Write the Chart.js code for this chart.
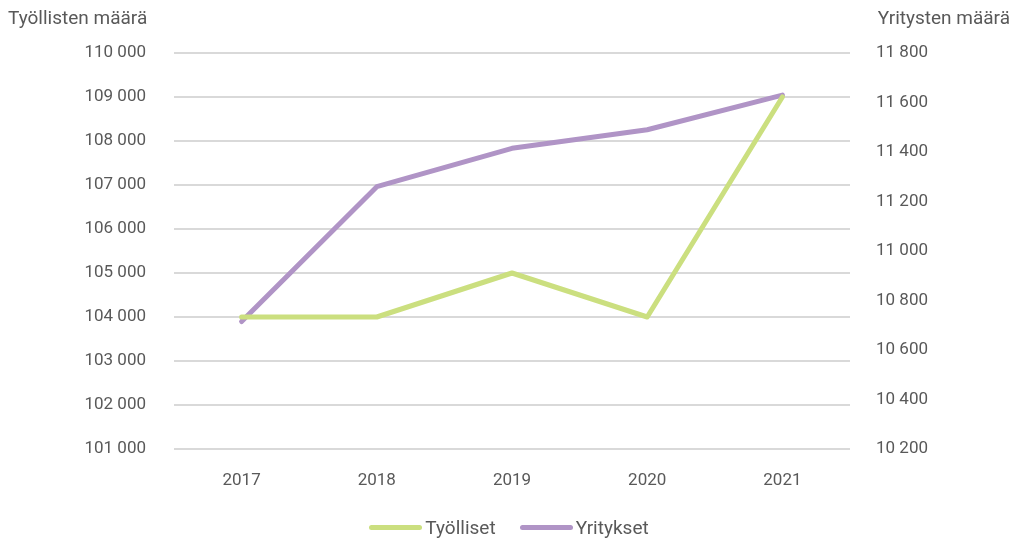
<!DOCTYPE html>
<html>
<head>
<meta charset="utf-8">
<script src="https://cdn.jsdelivr.net/npm/chart.js@4"></script>
<style>
html,body{margin:0;padding:0;background:#fff;}
#wrap{position:relative;width:1020px;height:542px;}
canvas{position:absolute;left:0;top:0;}
.ttl{position:absolute;top:6px;font-family:Roboto,"Noto Sans",sans-serif;font-size:19px;color:#595959;white-space:nowrap;}
#legend{position:absolute;left:0;width:1018px;top:515px;height:24px;display:flex;justify-content:center;align-items:center;
  font-family:Roboto,"Noto Sans",sans-serif;font-size:19px;color:#595959;}
#legend .item{display:flex;align-items:center;}
#legend .item + .item{margin-left:24px;}
#legend .sw{width:53px;height:5px;border-radius:3px;margin-right:3px;}
</style>
</head>
<body>
<div id="wrap">
<canvas id="c" width="1020" height="542"></canvas>
<div class="ttl" id="tl" style="left:8px;">Työllisten määrä</div>
<div class="ttl" id="tr" style="right:10px;">Yritysten määrä</div>
<div id="legend"></div>
</div>
<script>
const categories = ['2017', '2018', '2019', '2020', '2021'];
const tyollisetLabel = 'Työlliset';
const yrityksetLabel = 'Yritykset';
const tyolliset = [104000, 104000, 105000, 104000, 109000];
const yritykset = [10715, 11260, 11415, 11490, 11630];
const leftTicks = { min: 101000, max: 110000, step: 1000 };
const rightTicks = { min: 10200, max: 11800, step: 200 };

const green = '#CBDF7F';
const purple = '#B094C6';
const txt = '#595959';
const fam = 'Roboto, "Noto Sans", sans-serif';

function fmt(v) {
  return String(v).replace(/\B(?=(\d{3})+(?!\d))/g, ' ');
}

const chart = new Chart(document.getElementById('c'), {
  type: 'line',
  data: {
    labels: categories,
    datasets: [
      { label: tyollisetLabel, data: tyolliset, yAxisID: 'yL', borderColor: green, backgroundColor: green,
        borderWidth: 5, pointRadius: 0, pointHoverRadius: 0, tension: 0, borderCapStyle: 'round', borderJoinStyle: 'round' },
      { label: yrityksetLabel, data: yritykset, yAxisID: 'yR', borderColor: purple, backgroundColor: purple,
        borderWidth: 5, pointRadius: 0, pointHoverRadius: 0, tension: 0, borderCapStyle: 'round', borderJoinStyle: 'round' }
    ]
  },
  options: {
    responsive: false,
    animation: false,
    layout: { padding: { top: 53, left: 0, right: 0, bottom: 0 } },
    plugins: {
      tooltip: { enabled: false },
      legend: { display: false }
    },
    scales: {
      x: {
        offset: true,
        grid: { display: false },
        border: { display: false },
        ticks: { font: { family: fam, size: 17 }, color: txt, padding: 14 },
        afterFit(s) { s.height = 93; }
      },
      yL: {
        position: 'left',
        min: leftTicks.min, max: leftTicks.max,
        ticks: { stepSize: leftTicks.step, font: { family: fam, size: 17 }, color: txt, padding: 28, callback: v => fmt(v) },
        grid: { color: '#D9D9D9', lineWidth: 2, drawTicks: false },
        border: { display: false },
        afterFit(s) { s.width = 174; }
      },
      yR: {
        position: 'right',
        min: rightTicks.min, max: rightTicks.max,
        ticks: { stepSize: rightTicks.step, font: { family: fam, size: 17 }, color: txt, padding: 26, callback: v => fmt(v) },
        grid: { display: false, drawTicks: false },
        border: { display: false },
        afterFit(s) { s.width = 170; }
      }
    }
  }
});

// HTML legend built from the chart's datasets
const lg = document.getElementById('legend');
chart.data.datasets.forEach(d => {
  const it = document.createElement('div'); it.className = 'item';
  const sw = document.createElement('div'); sw.className = 'sw'; sw.style.background = d.borderColor;
  const tx = document.createElement('span'); tx.textContent = d.label;
  it.appendChild(sw); it.appendChild(tx); lg.appendChild(it);
});
</script>
</body>
</html>
